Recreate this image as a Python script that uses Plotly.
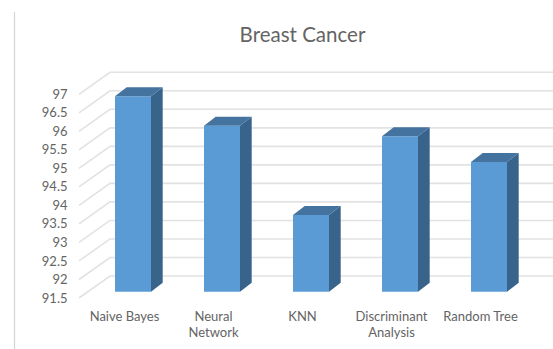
import plotly.graph_objects as go

# Chart data
categories = ["Naive Bayes", "Neural<br>Network", "KNN", "Discriminant<br>Analysis", "Random Tree"]
accuracy = [96.78, 95.98, 93.57, 95.7, 95.0]
tick_values = [91.5, 92, 92.5, 93, 93.5, 94, 94.5, 95, 95.5, 96, 96.5, 97]
tick_labels = ["91.5", "92", "92.5", "93", "93.5", "94", "94.5", "95", "95.5", "96", "96.5", "97"]

WIDTH, HEIGHT = 553, 349
FONT = "Lato"
TEXT = "#646464"
GRID = "#e2e2e2"
FRONT_FACE = "#5b9bd5"
SIDE_FACE = "#38648c"
TOP_FACE = "#44739f"

# Scales shared by the two planes
PX_PER_CATEGORY = 89.0
PX_PER_UNIT = 37.04
BASE = 91.5
BAR_WIDTH = 36 / PX_PER_CATEGORY

# Oblique projection offsets, in category and value units
WALL_DX, WALL_DY = 31 / PX_PER_CATEGORY, 22 / PX_PER_UNIT
BAR_DX, BAR_DY = 11.7 / PX_PER_CATEGORY, 9 / PX_PER_UNIT


def x_range(first_px):
    return [-first_px / PX_PER_CATEGORY, (WIDTH - first_px) / PX_PER_CATEGORY]


def y_range(base_px):
    return [BASE - (HEIGHT - base_px) / PX_PER_UNIT, BASE + base_px / PX_PER_UNIT]


front_x = x_range(124.5)
front_y = y_range(298)
bar_x = x_range(133)
bar_y = y_range(291.7)

wall_left = (79 - 124.5) / PX_PER_CATEGORY
fig = go.Figure()

# Floor diagonal and back wall line for every tick
for v in tick_values:
    fig.add_trace(go.Scatter(
        x=[wall_left, wall_left + WALL_DX, front_x[1]],
        y=[v, v + WALL_DY, v + WALL_DY],
        mode="lines", line=dict(color=GRID, width=1.6),
        xaxis="x", yaxis="y", hoverinfo="skip", showlegend=False,
    ))

positions = list(range(len(accuracy)))

fig.add_trace(go.Bar(
    x=positions, y=[v - BASE for v in accuracy], base=BASE, width=BAR_WIDTH,
    marker=dict(color=FRONT_FACE, line=dict(width=0)),
    xaxis="x2", yaxis="y2", showlegend=False,
))

side_x, side_y, top_x, top_y = [], [], [], []
for p, v in zip(positions, accuracy):
    left, right = p - BAR_WIDTH / 2, p + BAR_WIDTH / 2
    side_x += [right, right + BAR_DX, right + BAR_DX, right, right, None]
    side_y += [BASE, BASE + BAR_DY, v + BAR_DY, v, BASE, None]
    top_x += [left, left + BAR_DX, right + BAR_DX, right, left, None]
    top_y += [v, v + BAR_DY, v + BAR_DY, v, v, None]

for xs, ys, colour in ((side_x, side_y, SIDE_FACE), (top_x, top_y, TOP_FACE)):
    fig.add_trace(go.Scatter(
        x=xs, y=ys, mode="lines", fill="toself", fillcolor=colour,
        line=dict(width=0, color=colour),
        xaxis="x2", yaxis="y2", hoverinfo="skip", showlegend=False,
    ))

fig.update_layout(
    width=WIDTH, height=HEIGHT, autosize=False,
    margin=dict(l=0, r=0, t=0, b=0),
    paper_bgcolor="white", plot_bgcolor="rgba(0,0,0,0)",
    font=dict(family=FONT, color=TEXT),
    title=dict(
        text="Breast Cancer", x=302.5 / WIDTH, y=1 - 35 / HEIGHT,
        xanchor="center", yanchor="middle",
        font=dict(family=FONT, size=20.5, color=TEXT),
    ),
    xaxis=dict(
        domain=[0, 1], range=front_x, anchor="free", position=1 - 306.5 / HEIGHT,
        tickmode="array", tickvals=positions, ticktext=categories,
        tickangle=0, tickfont=dict(size=13, color=TEXT),
        ticks="", showgrid=False, zeroline=False, showline=False,
    ),
    yaxis=dict(
        domain=[0, 1], range=front_y, anchor="free", position=67.5 / WIDTH,
        tickmode="array", tickvals=tick_values, ticktext=tick_labels,
        tickfont=dict(size=13, color=TEXT),
        ticks="", showgrid=False, zeroline=False, showline=False,
    ),
    xaxis2=dict(domain=[0, 1], range=bar_x, anchor="y2", visible=False),
    yaxis2=dict(domain=[0, 1], range=bar_y, anchor="x2", visible=False),
    shapes=[dict(
        type="line", xref="paper", yref="paper",
        x0=14.5 / WIDTH, x1=14.5 / WIDTH, y0=0, y1=1 - 12 / HEIGHT,
        line=dict(color="#d4d4d4", width=1.2),
    )],
)

fig.write_html("out.html")
